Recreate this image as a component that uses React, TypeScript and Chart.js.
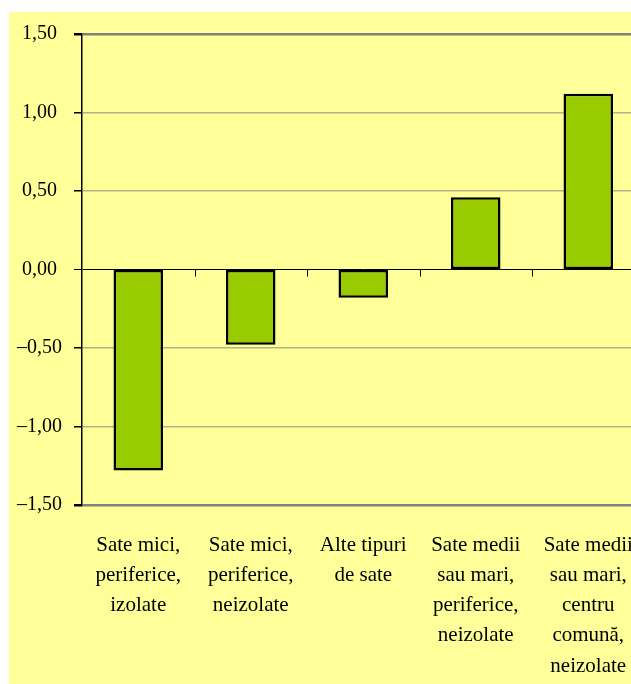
import React, { useEffect, useRef } from "react";
import { Chart, registerables } from "chart.js";

Chart.register(...registerables);

const categories: string[][] = [
  ["Sate mici,", "periferice,", "izolate"],
  ["Sate mici,", "periferice,", "neizolate"],
  ["Alte tipuri", "de sate"],
  ["Sate medii", "sau mari,", "periferice,", "neizolate"],
  ["Sate medii", "sau mari,", "centru", "comună,", "neizolate"],
];
const values: number[] = [-1.28, -0.48, -0.18, 0.46, 1.12];
const yMin = -1.5;
const yMax = 1.5;
const yStep = 0.5;

const FONT = "'Liberation Serif', 'Times New Roman', serif";

const zeroTicks = {
  id: "zeroTicks",
  afterDraw(chart: any) {
    const xs = chart.scales.x;
    const ys = chart.scales.y;
    const ctx = chart.ctx;
    const y0 = ys.getPixelForValue(0);
    const n = categories.length;
    ctx.save();
    ctx.strokeStyle = "#000";
    ctx.lineWidth = 1;
    for (let i = 1; i < n; i++) {
      const px = Math.round((xs.getPixelForValue(i - 1) + xs.getPixelForValue(i)) / 2) + 0.5;
      ctx.beginPath();
      ctx.moveTo(px, y0);
      ctx.lineTo(px, y0 + 7);
      ctx.stroke();
    }
    ctx.restore();
  },
};

const fmt = (v: number) => {
  const s = Math.abs(v).toFixed(2).replace(".", ",");
  return v < -1e-9 ? "–" + s : s + " ";
};

export default function App() {
  const ref = useRef<HTMLCanvasElement | null>(null);
  useEffect(() => {
    if (!ref.current) return;
    const chart = new Chart(ref.current, {
      type: "bar",
      data: {
        labels: categories,
        datasets: [
          {
            data: values,
            backgroundColor: "#99CC00",
            borderColor: "#000000",
            borderWidth: 2.5,
            borderSkipped: false,
            barPercentage: 0.44,
            categoryPercentage: 1,
          },
        ],
      },
      options: {
        animation: false,
        responsive: false,
        maintainAspectRatio: false,
        layout: { padding: { top: 22, right: 4.5, left: 0, bottom: 0 } },
        plugins: { legend: { display: false }, tooltip: { enabled: false } },
        scales: {
          x: {
            offset: true,
            grid: { display: false, drawTicks: false },
            border: { display: false },
            ticks: {
              color: "#000",
              padding: 25,
              maxRotation: 0,
              autoSkip: false,
              font: { family: FONT, size: 21, lineHeight: 1.44 },
            },
            afterFit(scale: any) {
              scale.height = 179;
              scale.paddingLeft = 0;
              scale.paddingRight = 0;
            },
          },
          y: {
            min: yMin,
            max: yMax,
            border: { display: true, color: "#000", width: 1.5 },
            grid: {
              color: (c: any) => {
                const v = c.tick ? c.tick.value : 0;
                if (Math.abs(v) < 1e-9) return "#000000";
                if (Math.abs(Math.abs(v) - 1.5) < 1e-9) return "#808080";
                return "rgba(128,128,128,0.6)";
              },
              lineWidth: (c: any) => {
                const v = c.tick ? c.tick.value : 0;
                if (Math.abs(v) < 1e-9) return 1;
                if (Math.abs(Math.abs(v) - 1.5) < 1e-9) return 2.5;
                return 1.5;
              },
              tickColor: "#000",
              tickLength: 8,
            },
            ticks: {
              stepSize: yStep,
              color: "#000",
              padding: 12,
              font: { family: FONT, size: 20 },
              callback: (v: any) => fmt(Number(v)),
            },
            afterFit(scale: any) {
              scale.width = 73;
              scale.paddingTop = 0;
              scale.paddingBottom = 0;
            },
          },
        },
      },
      plugins: [zeroTicks],
    });
    return () => chart.destroy();
  }, []);

  return (
    <div style={{ position: "fixed", inset: 0, overflow: "hidden", background: "#fff" }}>
      <div
        style={{
          position: "absolute",
          left: 9,
          top: 12,
          width: 640,
          height: 672,
          background: "#FFFF99",
        }}
      >
        <canvas ref={ref} width={640} height={672} style={{ display: "block" }} />
      </div>
    </div>
  );
}
